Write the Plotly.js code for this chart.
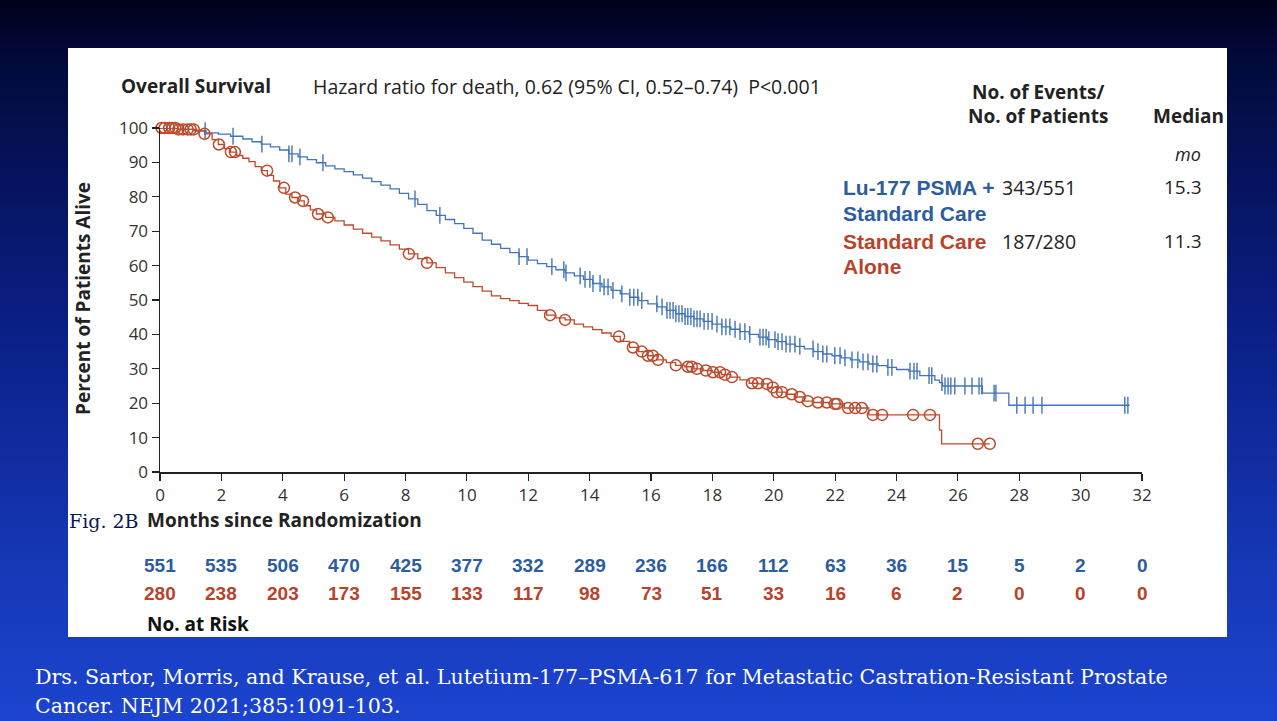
<!DOCTYPE html>
<html>
<head>
<meta charset="utf-8">
<script src="https://cdn.plot.ly/plotly-3.0.1.min.js"></script>
<style>
  html, body { margin:0; padding:0; width:1277px; height:721px; overflow:hidden; }
  body { background: linear-gradient(to bottom, #00001a 0%, #020a3a 8%, #0a1f86 45%, #1639b8 80%, #1c44cf 100%); position:relative; }
  #panel { position:absolute; left:68px; top:48px; width:1159px; height:589px; background:#ffffff; }
  #chart { position:absolute; left:0; top:0; width:1277px; height:721px; }
</style>
</head>
<body>
<div id="panel"></div>
<div id="chart"></div>
<script>
// ---- Data ----
// Lu-177 PSMA + standard care: Kaplan-Meier steps (months, % alive)
const luTime = [0, 0.6, 1.1, 1.5, 1.9, 2.3, 2.7, 3.0, 3.3, 3.6, 3.9, 4.2, 4.5, 4.8, 5.1, 5.4, 5.7, 6.0, 6.3, 6.6, 6.9, 7.2, 7.5, 7.8, 8.1, 8.4, 8.7, 9.0, 9.3, 9.6, 9.9, 10.2, 10.5, 10.8, 11.1, 11.4, 11.7, 12.0, 12.3, 12.6, 12.9, 13.2, 13.5, 13.8, 14.1, 14.4, 14.7, 15.0, 15.3, 15.6, 15.9, 16.2, 16.5, 16.8, 17.1, 17.4, 17.7, 18.0, 18.3, 18.6, 18.9, 19.2, 19.5, 19.8, 20.1, 20.4, 20.7, 21.0, 21.3, 21.6, 21.9, 22.2, 22.5, 22.8, 23.1, 23.4, 23.7, 24.0, 24.4, 24.76, 25.25, 25.4, 25.5, 26.8, 27.66, 31.6];
const luSurv = [100, 99.6, 99.2, 98.6, 98.2, 97.6, 96.8, 96.0, 95.3, 94.5, 93.6, 92.5, 91.6, 90.8, 89.9, 89.0, 88.1, 87.3, 86.4, 85.4, 84.4, 83.4, 82.3, 81.0, 79.4, 77.8, 76.0, 74.6, 73.4, 72.2, 70.8, 69.4, 67.4, 66.2, 65.0, 63.8, 62.6, 61.6, 60.6, 59.7, 58.8, 57.9, 57.0, 56.0, 54.8, 53.8, 52.8, 51.8, 50.8, 49.8, 48.9, 48.0, 47.0, 46.0, 45.2, 44.5, 43.8, 43.0, 42.2, 41.5, 40.8, 40.0, 39.2, 38.5, 37.9, 37.2, 36.5, 35.8, 35.0, 34.3, 33.8, 33.2, 32.6, 32.0, 31.4, 30.9, 30.4, 29.8, 29.3, 28.0, 26.7, 26.0, 25.0, 22.9, 19.4, 19.4];
// Lu-177 censor times (months)
const luCensor = [1.47, 2.38, 3.32, 4.2, 4.3, 4.56, 5.31, 8.31, 9.12, 11.7, 11.96, 12.77, 13.16, 13.23, 13.69, 13.85, 14.01, 14.11, 14.34, 14.47, 14.6, 14.76, 15.05, 15.31, 15.44, 15.57, 15.7, 16.19, 16.36, 16.52, 16.62, 16.72, 16.81, 16.91, 17.01, 17.11, 17.2, 17.3, 17.4, 17.5, 17.6, 17.73, 17.86, 17.99, 18.15, 18.31, 18.44, 18.57, 18.74, 18.9, 19.06, 19.22, 19.55, 19.65, 19.75, 19.84, 20.04, 20.14, 20.27, 20.4, 20.53, 20.69, 20.85, 21.28, 21.44, 21.6, 21.73, 21.99, 22.16, 22.32, 22.55, 22.74, 22.91, 23.07, 23.23, 23.36, 23.72, 23.85, 24.44, 24.57, 24.67, 25.06, 25.15, 25.48, 25.58, 25.68, 25.77, 25.9, 26.23, 26.46, 26.69, 26.78, 27.18, 27.24, 27.92, 28.19, 28.45, 28.74, 31.44, 31.54];

// Standard care alone
const socTime = [0, 0.6, 1.2, 1.45, 1.7, 1.9, 2.1, 2.3, 2.5, 2.7, 2.9, 3.1, 3.3, 3.5, 3.7, 3.9, 4.1, 4.3, 4.5, 4.7, 4.9, 5.1, 5.4, 5.7, 6.0, 6.3, 6.6, 6.9, 7.2, 7.5, 7.8, 8.1, 8.4, 8.7, 9.0, 9.3, 9.6, 9.9, 10.2, 10.5, 10.8, 11.1, 11.4, 11.7, 12.0, 12.3, 12.6, 12.9, 13.2, 13.5, 13.8, 14.1, 14.4, 14.7, 15.0, 15.3, 15.6, 15.9, 16.2, 16.5, 16.8, 17.1, 17.4, 17.7, 18.0, 18.3, 18.6, 18.9, 19.2, 19.5, 19.8, 20.1, 20.4, 20.7, 21.0, 21.3, 21.8, 22.3, 23.1, 25.4, 25.47, 27.04];
const socSurv = [100, 99.6, 99.2, 98.3, 96.6, 95.2, 94.0, 93.0, 92.0, 91.2, 90.2, 88.8, 87.6, 86.2, 84.6, 82.6, 80.8, 79.8, 78.8, 77.4, 76.2, 75.0, 74.0, 73.0, 71.8, 70.6, 69.4, 68.3, 67.2, 66.0, 64.8, 63.4, 62.0, 60.8, 59.4, 57.9, 56.5, 55.2, 53.9, 52.6, 51.2, 50.4, 49.8, 49.0, 48.4, 47.0, 45.6, 44.8, 44.2, 43.0, 42.2, 41.4, 40.4, 39.4, 38.0, 36.2, 35.0, 33.8, 32.6, 31.8, 31.0, 30.6, 30.0, 29.5, 29.0, 28.3, 27.6, 26.8, 25.8, 25.6, 24.6, 23.2, 22.6, 21.8, 20.6, 20.2, 19.8, 18.6, 16.6, 12.2, 8.2, 8.2];
const socCensor = [0.05, 0.15, 0.3, 0.4, 0.5, 0.6, 0.75, 0.9, 1.0, 1.1, 1.45, 1.92, 2.31, 2.44, 3.49, 4.04, 4.4, 4.66, 5.15, 5.47, 8.11, 8.7, 12.71, 13.2, 14.96, 15.41, 15.7, 15.9, 16.06, 16.23, 16.81, 17.2, 17.33, 17.5, 17.79, 18.02, 18.25, 18.41, 18.64, 19.29, 19.49, 19.78, 19.97, 20.1, 20.27, 20.59, 20.85, 21.11, 21.44, 21.73, 21.99, 22.06, 22.42, 22.65, 22.87, 23.23, 23.53, 24.54, 25.09, 26.65, 27.04];

// Number at risk
const riskTimes = [0, 2, 4, 6, 8, 10, 12, 14, 16, 18, 20, 22, 24, 26, 28, 30, 32];
const riskLu  = [551, 535, 506, 470, 425, 377, 332, 289, 236, 166, 112, 63, 36, 15, 5, 2, 0];
const riskSoc = [280, 238, 203, 173, 155, 133, 117, 98, 73, 51, 33, 16, 6, 2, 0, 0, 0];

const xTicks = [0, 2, 4, 6, 8, 10, 12, 14, 16, 18, 20, 22, 24, 26, 28, 30, 32];
const yTicks = [0, 10, 20, 30, 40, 50, 60, 70, 80, 90, 100];

// ---- Styles ----
const BLUE_LINE = '#4274b9';
const RED_LINE = '#bd4a2b';
const BLUE_TXT = '#2c5d9c';
const RED_TXT = '#b8432a';
const INK = '#222222';

// step lookup for censor marks
function stepAt(times, surv, t) {
  let v = surv[0];
  for (let i = 0; i < times.length; i++) { if (times[i] <= t) v = surv[i]; else break; }
  return v;
}

const traces = [
  { x: luTime, y: luSurv, type: 'scatter', mode: 'lines', line: { shape: 'hv', color: BLUE_LINE, width: 1.3 }, hoverinfo: 'skip', cliponaxis: false },
  { x: socTime, y: socSurv, type: 'scatter', mode: 'lines', line: { shape: 'hv', color: RED_LINE, width: 1.3 }, hoverinfo: 'skip', cliponaxis: false },
  { x: luCensor, y: luCensor.map(t => stepAt(luTime, luSurv, t)), type: 'scatter', mode: 'markers',
    marker: { symbol: 'line-ns-open', size: 12, color: BLUE_LINE, line: { color: BLUE_LINE, width: 1.4 } }, hoverinfo: 'skip', cliponaxis: false },
  { x: socCensor, y: socCensor.map(t => stepAt(socTime, socSurv, t)), type: 'scatter', mode: 'markers',
    marker: { symbol: 'circle-open', size: 11, line: { color: RED_LINE, width: 1.5 }, color: RED_LINE }, hoverinfo: 'skip', cliponaxis: false }
];

// pixel -> paper helpers for text placement
const L = 160, R = 1142, T = 128, B = 472;
const fx = px => (px - L) / (R - L);
const fy = py => (B - py) / (B - T);

const SANS = '"Open Sans", Lato, sans-serif';
const ARIAL = '"Liberation Sans", Arial, sans-serif';
const SERIF = '"DejaVu Serif", "Liberation Serif", serif';

function ann(text, px, py, opts) {
  return Object.assign({ text: text, xref: 'paper', yref: 'paper', x: fx(px), y: fy(py),
    xanchor: 'left', yanchor: 'middle', showarrow: false,
    font: { family: SANS, size: 18, color: INK } }, opts || {});
}

const annotations = [
  ann('<b>Overall Survival</b>', 119, 86, { font: { family: SANS, size: 19, color: INK } }),
  ann('Hazard ratio for death, 0.62 (95% CI, 0.52–0.74)  P<0.001', 311, 86, { font: { family: SANS, size: 19.5, color: INK } }),
  ann('<b>No. of Events/</b>', 1038, 92, { xanchor: 'center', font: { family: SANS, size: 19, color: INK } }),
  ann('<b>No. of Patients</b>', 1038, 116, { xanchor: 'center', font: { family: SANS, size: 19, color: INK } }),
  ann('<b>Median</b>', 1188, 116, { xanchor: 'center', font: { family: SANS, size: 19, color: INK } }),
  ann('<i>mo</i>', 1188, 154, { xanchor: 'center', font: { family: SANS, size: 18, color: INK } }),
  ann('<b>Lu-177 PSMA +</b>', 841, 187, { font: { family: ARIAL, size: 21, color: BLUE_TXT } }),
  ann('<b>Standard Care</b>', 841, 213, { font: { family: ARIAL, size: 21, color: BLUE_TXT } }),
  ann('343/551', 1000, 187, { font: { family: SANS, size: 19.5, color: INK } }),
  ann('15.3', 1204, 187, { xanchor: 'right', font: { family: SANS, size: 19, color: INK } }),
  ann('<b>Standard Care</b>', 841, 241, { font: { family: ARIAL, size: 21, color: RED_TXT } }),
  ann('<b>Alone</b>', 841, 266, { font: { family: ARIAL, size: 21, color: RED_TXT } }),
  ann('187/280', 1000, 241, { font: { family: SANS, size: 19.5, color: INK } }),
  ann('11.3', 1204, 241, { xanchor: 'right', font: { family: SANS, size: 19, color: INK } }),
  ann('<b>Percent of Patients Alive</b>', 83, 299, { xanchor: 'center', textangle: -90, font: { family: SANS, size: 19, color: INK } }),
  ann('Fig. 2B', 67, 521, { font: { family: SERIF, size: 19, color: '#0b1650' } }),
  ann('<b>Months since Randomization</b>', 145, 520, { font: { family: SANS, size: 19, color: INK } }),
  ann('<b>No. at Risk</b>', 145, 624, { font: { family: SANS, size: 19, color: '#111111' } }),
  ann('Drs. Sartor, Morris, and Krause, et al. Lutetium-177–PSMA-617 for Metastatic Castration-Resistant Prostate', 33, 677, { font: { family: SERIF, size: 20.6, color: '#ffffff' } }),
  ann('Cancer. NEJM 2021;385:1091-103.', 33, 706, { font: { family: SERIF, size: 20.6, color: '#ffffff' } })
];

riskTimes.forEach((t, i) => {
  annotations.push({ text: '<b>' + riskLu[i] + '</b>', xref: 'x', yref: 'paper', x: t, y: fy(565), xanchor: 'center', yanchor: 'middle', showarrow: false, font: { family: ARIAL, size: 19, color: BLUE_TXT } });
  annotations.push({ text: '<b>' + riskSoc[i] + '</b>', xref: 'x', yref: 'paper', x: t, y: fy(593), xanchor: 'center', yanchor: 'middle', showarrow: false, font: { family: ARIAL, size: 19, color: RED_TXT } });
});

const layout = {
  width: 1277, height: 721,
  margin: { l: L, r: 1277 - R, t: T, b: 721 - B, pad: 0 },
  paper_bgcolor: 'rgba(0,0,0,0)', plot_bgcolor: 'rgba(0,0,0,0)',
  showlegend: false,
  xaxis: { range: [0, 32], tickvals: xTicks, ticktext: xTicks.map(String), ticks: 'outside', ticklen: 7, tickwidth: 1.2, tickcolor: INK,
           showline: true, linecolor: INK, linewidth: 1.5, showgrid: false, zeroline: false,
           tickfont: { family: '"Open Sans", Lato, sans-serif', size: 17, color: '#333333' }, fixedrange: true },
  yaxis: { range: [0, 100], tickvals: yTicks, ticktext: yTicks.map(String), ticks: 'outside', ticklen: 7, tickwidth: 1.2, tickcolor: INK,
           showline: true, linecolor: INK, linewidth: 1.5, showgrid: false, zeroline: false,
           tickfont: { family: '"Open Sans", Lato, sans-serif', size: 17, color: '#333333' }, fixedrange: true },
  annotations: annotations
};

Plotly.newPlot('chart', traces, layout, { displayModeBar: false, staticPlot: true });
</script>
</body>
</html>
